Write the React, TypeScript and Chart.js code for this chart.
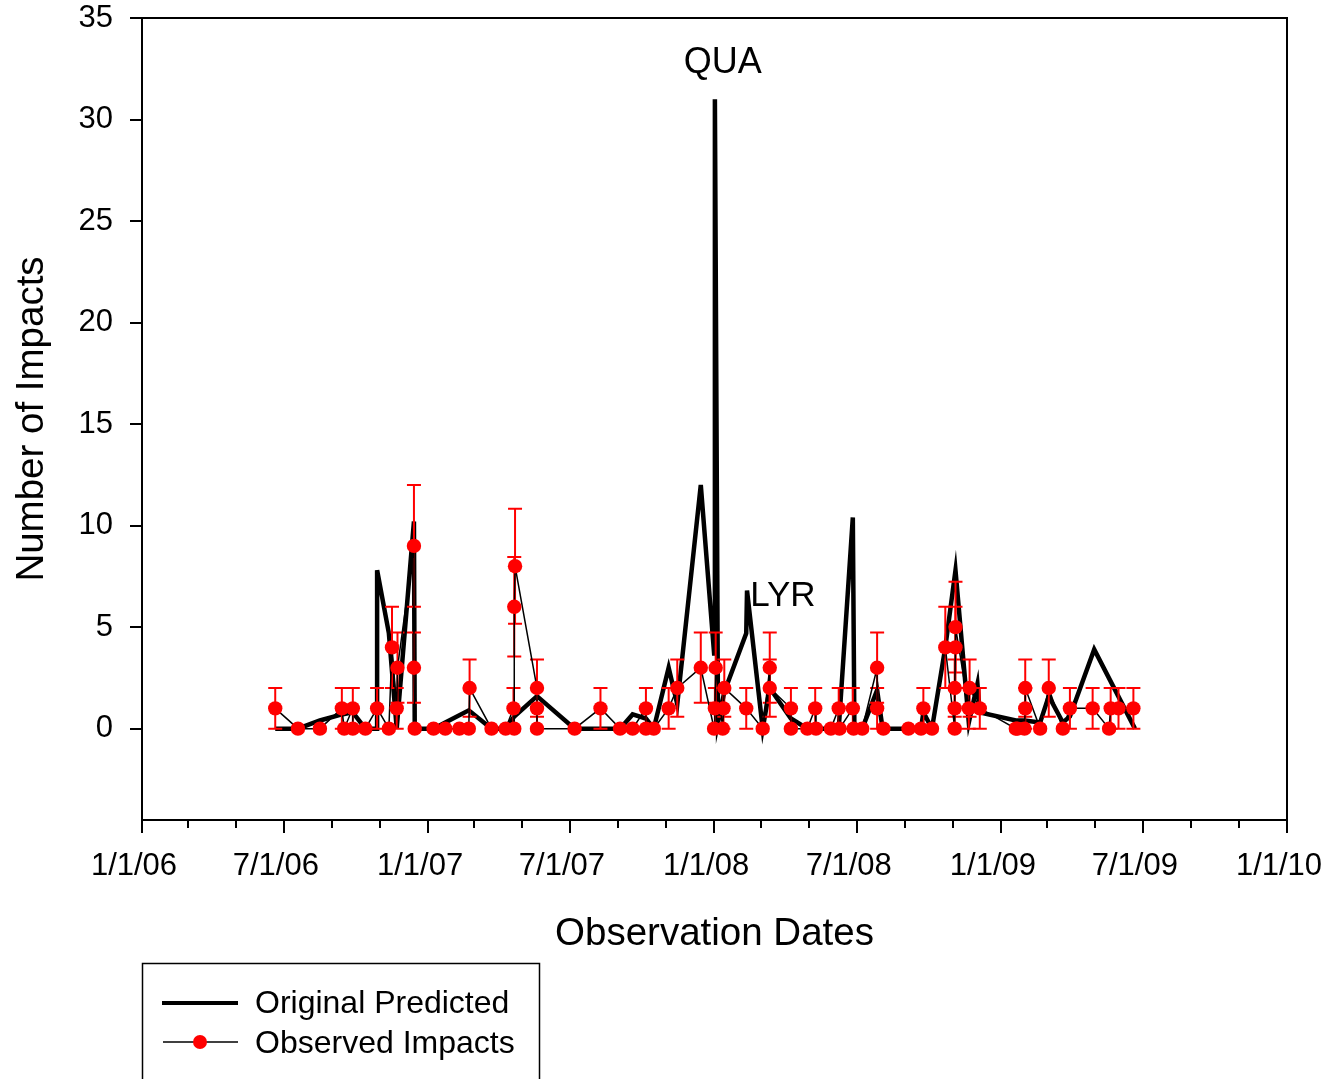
import React, { useEffect, useRef } from 'react';
import { Chart, registerables } from 'chart.js';

Chart.register(...registerables);

const FONT = '"Liberation Sans", Arial, Helvetica, sans-serif';

// ---------- data ----------
const observedDates = [
  '2006-06-20', '2006-07-19', '2006-08-16', '2006-09-13', '2006-09-16', '2006-09-27', '2006-09-27',
  '2006-10-13', '2006-10-28', '2006-11-12', '2006-11-16', '2006-11-22', '2006-11-23', '2006-12-14',
  '2006-12-14', '2006-12-15', '2007-01-08', '2007-01-23', '2007-02-10', '2007-02-22', '2007-02-23',
  '2007-03-23', '2007-04-10', '2007-04-20', '2007-04-21', '2007-04-21', '2007-04-22', '2007-05-20',
  '2007-05-20', '2007-05-20', '2007-07-07', '2007-08-09', '2007-09-03', '2007-09-19', '2007-10-06',
  '2007-10-06', '2007-10-16', '2007-11-04', '2007-11-15', '2007-12-15', '2008-01-01', '2008-01-02',
  '2008-01-03', '2008-01-12', '2008-01-13', '2008-01-14', '2008-02-11', '2008-03-03', '2008-03-12',
  '2008-03-12', '2008-04-08', '2008-04-08', '2008-04-29', '2008-05-09', '2008-05-10', '2008-05-29',
  '2008-06-08', '2008-06-09', '2008-06-26', '2008-06-27', '2008-07-08', '2008-07-27', '2008-07-27',
  '2008-08-04', '2008-09-05', '2008-09-21', '2008-09-24', '2008-10-05', '2008-10-22', '2008-11-03',
  '2008-11-03', '2008-11-03', '2008-11-04', '2008-11-04', '2008-11-21', '2008-11-22', '2008-12-05',
  '2009-01-20', '2009-01-22', '2009-01-31', '2009-02-01', '2009-02-01', '2009-02-20', '2009-03-03',
  '2009-03-21', '2009-03-30', '2009-04-28', '2009-05-19', '2009-05-21', '2009-05-31', '2009-06-19',
];
const observedValues = [
  1, 0, 0, 1, 0, 1, 0,
  0, 1, 0, 4, 1, 3, 9,
  3, 0, 0, 0, 0, 0, 2,
  0, 0, 1, 0, 6, 8, 2,
  1, 0, 0, 1, 0, 0, 1,
  0, 0, 1, 2, 3, 0, 1,
  3, 0, 1, 2, 1, 0, 3,
  2, 1, 0, 0, 1, 0, 0,
  1, 0, 1, 0, 0, 3, 1,
  0, 0, 0, 1, 0, 4, 0,
  1, 2, 4, 5, 1, 2, 1,
  0, 0, 0, 1, 2, 0, 2,
  0, 1, 1, 0, 1, 1, 1,
];
const observedErrors = [
  1, 0, 0, 1, 0, 1, 0,
  0, 1, 0, 2, 1, 1.73, 3,
  1.73, 0, 0, 0, 0, 0, 1.41,
  0, 0, 1, 0, 2.45, 2.83, 1.41,
  1, 0, 0, 1, 0, 0, 1,
  0, 0, 1, 1.41, 1.73, 0, 1,
  1.73, 0, 1, 1.41, 1, 0, 1.73,
  1.41, 1, 0, 0, 1, 0, 0,
  1, 0, 1, 0, 0, 1.73, 1,
  0, 0, 0, 1, 0, 2, 0,
  1, 1.41, 2, 2.24, 1, 1.41, 1,
  0, 0, 0, 1, 1.41, 0, 1.41,
  0, 1, 1, 0, 1, 1, 1,
];

const predictedDates = [
  '2006-06-20', '2006-07-19', '2006-08-16', '2006-09-13', '2006-09-27', '2006-10-13', '2006-10-28',
  '2006-10-28', '2006-11-12', '2006-11-22', '2006-12-14', '2006-12-15', '2007-01-08', '2007-01-23',
  '2007-02-22', '2007-03-23', '2007-04-10', '2007-04-21', '2007-05-20', '2007-07-07', '2007-08-09',
  '2007-09-03', '2007-09-19', '2007-10-06', '2007-10-16', '2007-11-04', '2007-11-15', '2007-12-15',
  '2008-01-01', '2008-01-02', '2008-01-06', '2008-01-14', '2008-02-11', '2008-02-12', '2008-03-03',
  '2008-03-12', '2008-04-08', '2008-04-29', '2008-06-08', '2008-06-26', '2008-06-28', '2008-07-08',
  '2008-07-27', '2008-08-03', '2008-09-21', '2008-09-24', '2008-10-05', '2008-10-22', '2008-11-04',
  '2008-11-21', '2008-12-02', '2008-12-05', '2009-01-20', '2009-01-31', '2009-02-20', '2009-03-03',
  '2009-03-21', '2009-03-30', '2009-04-30', '2009-06-21',
];
const predictedValues = [
  0, 0, 0.4, 0.7, 0.8, 0, 0,
  7.8, 4.7, 0, 10.2, 0, 0, 0.3,
  0.9, 0, 0, 0.6, 1.6, 0, 0,
  0, 0.7, 0.5, 0, 3.0, 1.2, 12.0,
  3.7, 31.0, 0.3, 1.8, 4.7, 6.8, 0,
  2.0, 0.5, 0, 0, 10.4, 0, 0,
  1.9, 0, 0, 0.8, 0, 4.0, 7.8,
  0.3, 2.2, 0.8, 0.4, 0.4, 0.3, 1.6,
  0.3, 0.6, 3.9, 0,
];

const xTickDates = [
  '2006-01-01', '2006-03-01', '2006-05-01', '2006-07-01', '2006-09-01', '2006-11-01',
  '2007-01-01', '2007-03-01', '2007-05-01', '2007-07-01', '2007-09-01', '2007-11-01',
  '2008-01-01', '2008-03-01', '2008-05-01', '2008-07-01', '2008-09-01', '2008-11-01',
  '2009-01-01', '2009-03-01', '2009-05-01', '2009-07-01', '2009-09-01', '2009-11-01',
  '2010-01-01',
];
const xTickLabels = [
  '1/1/06', '', '', '7/1/06', '', '',
  '1/1/07', '', '', '7/1/07', '', '',
  '1/1/08', '', '', '7/1/08', '', '',
  '1/1/09', '', '', '7/1/09', '', '',
  '1/1/10',
];
const yTicks = [0, 5, 10, 15, 20, 25, 30, 35];

const annotations = [
  { text: 'QUA', date: '2008-01-12', value: 32.8, align: 'center', size: 36 },
  { text: 'LYR', date: '2008-02-16', value: 6.5, align: 'left', size: 35 },
];

const legendItems = ['Original Predicted', 'Observed Impacts'];

// ---------- helpers ----------
const BASE = Date.UTC(2006, 0, 1);
const toDay = (s: string) => {
  const [y, m, d] = s.split('-').map(Number);
  return Math.round((Date.UTC(y, m - 1, d) - BASE) / 86400000);
};

const decorPlugin = {
  id: 'decor',
  beforeDatasetDraw(chart: any, args: any) {
    if (args.index !== 0) return;
    const { ctx, scales } = chart;
    const x = scales.x;
    const y = scales.y;
    ctx.save();
    ctx.strokeStyle = '#ff0000';
    ctx.lineWidth = 2;
    observedDates.forEach((d, i) => {
      const e = observedErrors[i];
      if (!e) return;
      const px = x.getPixelForValue(toDay(d));
      const yt = y.getPixelForValue(observedValues[i] + e);
      const yb = y.getPixelForValue(observedValues[i] - e);
      ctx.beginPath();
      ctx.moveTo(px, yt);
      ctx.lineTo(px, yb);
      ctx.moveTo(px - 7, yt);
      ctx.lineTo(px + 7, yt);
      ctx.moveTo(px - 7, yb);
      ctx.lineTo(px + 7, yb);
      ctx.stroke();
    });
    ctx.restore();
  },
  afterDraw(chart: any) {
    const { ctx, chartArea, scales } = chart;
    const { left, top, right, bottom } = chartArea;
    const x = scales.x;
    const y = scales.y;
    ctx.save();
    ctx.strokeStyle = '#000';
    ctx.lineWidth = 2;
    ctx.strokeRect(left, top, right - left, bottom - top);
    ctx.beginPath();
    xTickDates.forEach((d, i) => {
      const px = Math.round(x.getPixelForValue(toDay(d)));
      const len = xTickLabels[i] ? 13 : 8;
      ctx.moveTo(px, bottom);
      ctx.lineTo(px, bottom + len);
    });
    yTicks.forEach((v) => {
      const py = Math.round(y.getPixelForValue(v));
      ctx.moveTo(left - 12, py);
      ctx.lineTo(left, py);
    });
    ctx.stroke();

    // annotations
    ctx.fillStyle = '#000';
    ctx.textBaseline = 'middle';
    annotations.forEach((a) => {
      ctx.font = `${a.size}px ${FONT}`;
      ctx.textAlign = a.align as CanvasTextAlign;
      ctx.fillText(a.text, x.getPixelForValue(toDay(a.date)), y.getPixelForValue(a.value));
    });

    // legend
    const bx = 142;
    const by = 963;
    ctx.lineWidth = 1.5;
    ctx.strokeRect(bx + 0.5, by + 0.5, 397, 200);
    ctx.font = `32px ${FONT}`;
    ctx.textAlign = 'left';
    // row 1
    ctx.lineWidth = 4;
    ctx.beginPath();
    ctx.moveTo(162, 1003);
    ctx.lineTo(238, 1003);
    ctx.stroke();
    ctx.fillText(legendItems[0], 255, 1004);
    // row 2
    ctx.lineWidth = 1.5;
    ctx.beginPath();
    ctx.moveTo(163, 1042);
    ctx.lineTo(238, 1042);
    ctx.stroke();
    ctx.fillStyle = '#ff0000';
    ctx.beginPath();
    ctx.arc(200, 1042, 7, 0, Math.PI * 2);
    ctx.fill();
    ctx.fillStyle = '#000';
    ctx.fillText(legendItems[1], 255, 1044);
    ctx.restore();
  },
};

export default function App() {
  const ref = useRef<HTMLCanvasElement>(null);
  useEffect(() => {
    if (!ref.current) return;
    Chart.defaults.font.family = FONT;
    Chart.defaults.color = '#000';
    const chart = new Chart(ref.current, {
      type: 'line',
      data: {
        datasets: [
          {
            label: legendItems[1],
            data: observedDates.map((d, i) => ({ x: toDay(d), y: observedValues[i] })),
            borderColor: '#000',
            borderWidth: 1.5,
            pointRadius: 7.2,
            pointHoverRadius: 7.2,
            pointBackgroundColor: '#ff0000',
            pointBorderColor: '#ff0000',
            pointBorderWidth: 0,
            tension: 0,
            order: 0,
          },
          {
            label: legendItems[0],
            data: predictedDates.map((d, i) => ({ x: toDay(d), y: predictedValues[i] })),
            borderColor: '#000',
            borderWidth: 4.5,
            pointRadius: 0,
            tension: 0,
            order: 1,
          },
        ],
      },
      options: {
        animation: false,
        responsive: false,
        events: [],
        layout: { padding: { top: 18, right: 41, left: 0, bottom: 0 } },
        plugins: { legend: { display: false }, tooltip: { enabled: false } },
        scales: {
          x: {
            type: 'linear',
            min: 0,
            max: toDay('2010-01-01'),
            grid: { display: false, drawTicks: false },
            border: { display: false },
            ticks: {
              autoSkip: false,
              maxRotation: 0,
              minRotation: 0,
              padding: 28,
              labelOffset: -8,
              color: '#000',
              font: { size: 31, family: FONT },
              callback: (_v: any, i: number) => xTickLabels[i],
            },
            afterBuildTicks: (s: any) => {
              s.ticks = xTickDates.map((d) => ({ value: toDay(d) }));
            },
            afterFit: (s: any) => {
              s.height = 259;
              s.paddingLeft = 0;
              s.paddingRight = 0;
            },
            title: {
              display: true,
              text: 'Observation Dates',
              color: '#000',
              font: { size: 38.5, family: FONT },
              padding: { top: 0, bottom: 122 },
            },
          },
          y: {
            type: 'linear',
            min: -4.5,
            max: 35,
            grid: { display: false, drawTicks: false },
            border: { display: false },
            ticks: {
              padding: 29,
              color: '#000',
              font: { size: 31, family: FONT },
              callback: (v: any) => String(v),
            },
            afterBuildTicks: (s: any) => {
              s.ticks = yTicks.map((v) => ({ value: v }));
            },
            afterFit: (s: any) => {
              s.width = 142;
              s.paddingTop = 0;
              s.paddingBottom = 0;
            },
            title: {
              display: true,
              text: 'Number of Impacts',
              color: '#000',
              font: { size: 38.5, family: FONT },
              padding: { top: 9, bottom: 0 },
            },
          },
        },
      },
      plugins: [decorPlugin],
    } as any);
    return () => chart.destroy();
  }, []);
  return (
    <div style={{ position: 'absolute', left: 0, top: 0, width: 1328, height: 1079, overflow: 'hidden', background: '#fff' }}>
      <canvas ref={ref} width={1328} height={1079} style={{ display: 'block' }} />
    </div>
  );
}
